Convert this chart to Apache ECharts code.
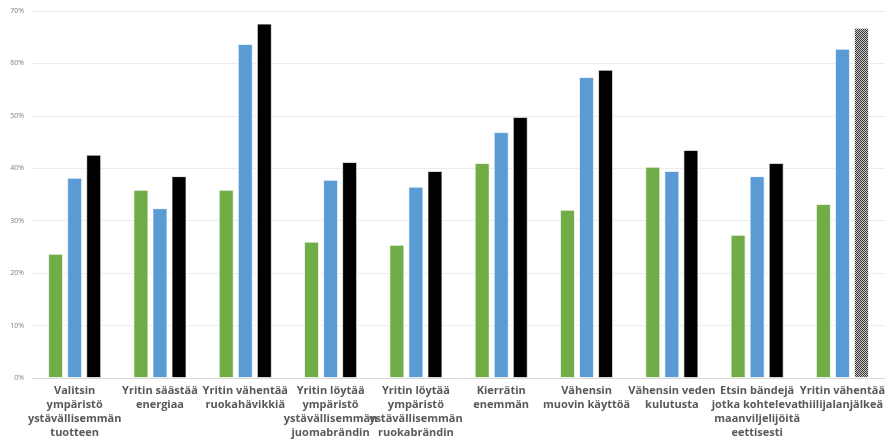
<!DOCTYPE html>
<html><head><meta charset="utf-8">
<script src="https://cdn.jsdelivr.net/npm/echarts@6/dist/echarts.min.js"></script>
<style>html,body{margin:0;padding:0;background:#fff}#c{width:888px;height:444px}</style>
</head><body><div id="c"></div>
<script>
const categories = [
  "Valitsin\nympäristö\nystävällisemmän\ntuotteen",
  "Yritin säästää\nenergiaa",
  "Yritin vähentää\nruokahävikkiä",
  "Yritin löytää\nympäristö\nystävällisemmän\njuomabrändin",
  "Yritin löytää\nympäristö\nystävällisemmän\nruokabrändin",
  "Kierrätin\nenemmän",
  "Vähensin\nmuovin käyttöä",
  "Vähensin veden\nkulutusta",
  "Etsin bändejä\njotka kohtelevat\nmaanviljelijöitä\neettisesti",
  "Yritin vähentää\nhiilijalanjälkeä"
];
const greenValues = [23.7, 35.9, 35.9, 26.0, 25.4, 41.0, 32.1, 40.3, 27.3, 33.2];
const blueValues  = [38.2, 32.4, 63.7, 37.8, 36.5, 46.9, 57.4, 39.5, 38.5, 62.8];
const blackValues = [42.6, 38.5, 67.6, 41.2, 39.5, 49.8, 58.8, 43.5, 41.0, 66.8];
const yTicks = [0, 10, 20, 30, 40, 50, 60, 70];

const pc = document.createElement('canvas');
pc.width = 2; pc.height = 2;
const px = pc.getContext('2d');
px.fillStyle = '#c8c8c8'; px.fillRect(0,0,2,2);
px.fillStyle = '#3a3a3a'; px.fillRect(0,0,1,1); px.fillRect(1,1,1,1);

const blackData = blackValues.map((v, i) => i === blackValues.length - 1
  ? {value: v, itemStyle: {color: {image: pc, repeat: 'repeat'}}}
  : v);

const chart = echarts.init(document.getElementById('c'));
const border = {borderColor: 'rgba(255,255,255,0.7)', borderWidth: 1};
chart.setOption({
  animation: false,
  grid: {left: 32, right: 0, top: 11, bottom: 66},
  xAxis: {
    type: 'category', data: categories,
    axisLine: {lineStyle: {color: '#d9d9d9'}},
    axisTick: {show: false},
    axisLabel: {interval: 0, color: '#595959', fontWeight: 'bold', fontSize: 11,
      fontFamily: 'Open Sans', lineHeight: 14, margin: 6}
  },
  yAxis: {
    type: 'value', min: 0, max: 70, interval: 10,
    axisLabel: {formatter: v => yTicks.includes(v) ? v + '%' : '', color: '#7f7f7f', fontSize: 7,
      fontFamily: 'Open Sans', margin: 8},
    splitLine: {lineStyle: {color: '#ececec'}},
    axisLine: {show: false}, axisTick: {show: false}
  },
  series: [
    {type: 'bar', data: greenValues, barWidth: 15, barGap: '27%', itemStyle: Object.assign({color: '#70AD47'}, border)},
    {type: 'bar', data: blueValues, barWidth: 15, barGap: '27%', itemStyle: Object.assign({color: '#5B9BD5'}, border)},
    {type: 'bar', data: blackData, barWidth: 15, barGap: '27%', itemStyle: Object.assign({color: '#000000'}, border)}
  ]
});
</script></body></html>
